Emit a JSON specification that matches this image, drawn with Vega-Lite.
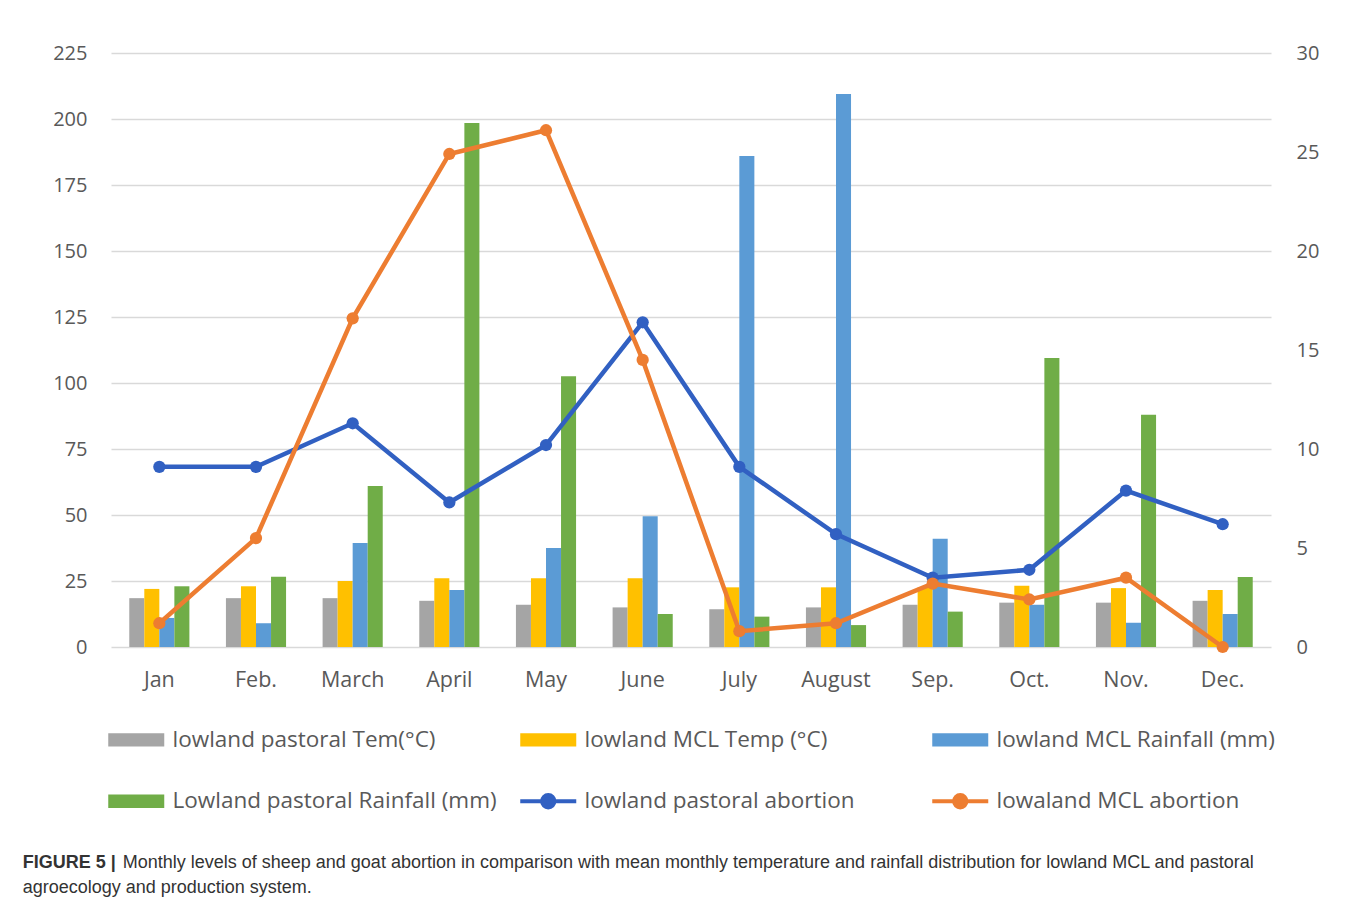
{
  "$schema": "https://vega.github.io/schema/vega-lite/v6.json",
  "width": 1160,
  "height": 594,
  "padding": {"left": 22, "top": 43, "right": 10, "bottom": 5},
  "background": "white",
  "title": {
    "text": "FIGURE 5 |",
    "subtitle": ["\u200b\u00a0\u00a0\u00a0\u00a0\u00a0\u00a0\u00a0\u00a0\u00a0\u00a0\u00a0\u00a0\u00a0\u00a0\u00a0\u00a0\u00a0\u00a0\u00a0\u00a0Monthly levels of sheep and goat abortion in comparison with mean monthly temperature and rainfall distribution for lowland MCL and pastoral", "agroecology and production system."],
    "orient": "bottom",
    "anchor": "start",
    "frame": "bounds",
    "dx": -30,
    "offset": 38,
    "font": "Liberation Sans",
    "fontSize": 18,
    "fontWeight": "bold",
    "color": "#333333",
    "subtitleFont": "Liberation Sans",
    "subtitleFontSize": 18,
    "subtitleColor": "#333333",
    "subtitlePadding": -18,
    "subtitleLineHeight": 25
  },
  "data": {
    "values": [
      {"month": "Jan", "series": "lowland pastoral Tem(°C)", "kind": "bar", "value": 18.5},
      {"month": "Feb.", "series": "lowland pastoral Tem(°C)", "kind": "bar", "value": 18.5},
      {"month": "March", "series": "lowland pastoral Tem(°C)", "kind": "bar", "value": 18.5},
      {"month": "April", "series": "lowland pastoral Tem(°C)", "kind": "bar", "value": 17.5},
      {"month": "May", "series": "lowland pastoral Tem(°C)", "kind": "bar", "value": 16},
      {"month": "June", "series": "lowland pastoral Tem(°C)", "kind": "bar", "value": 15},
      {"month": "July", "series": "lowland pastoral Tem(°C)", "kind": "bar", "value": 14.3},
      {"month": "August", "series": "lowland pastoral Tem(°C)", "kind": "bar", "value": 15},
      {"month": "Sep.", "series": "lowland pastoral Tem(°C)", "kind": "bar", "value": 16},
      {"month": "Oct.", "series": "lowland pastoral Tem(°C)", "kind": "bar", "value": 16.8},
      {"month": "Nov.", "series": "lowland pastoral Tem(°C)", "kind": "bar", "value": 16.8},
      {"month": "Dec.", "series": "lowland pastoral Tem(°C)", "kind": "bar", "value": 17.5},

      {"month": "Jan", "series": "lowland MCL  Temp (°C)", "kind": "bar", "value": 22},
      {"month": "Feb.", "series": "lowland MCL  Temp (°C)", "kind": "bar", "value": 23},
      {"month": "March", "series": "lowland MCL  Temp (°C)", "kind": "bar", "value": 25},
      {"month": "April", "series": "lowland MCL  Temp (°C)", "kind": "bar", "value": 26},
      {"month": "May", "series": "lowland MCL  Temp (°C)", "kind": "bar", "value": 26},
      {"month": "June", "series": "lowland MCL  Temp (°C)", "kind": "bar", "value": 26},
      {"month": "July", "series": "lowland MCL  Temp (°C)", "kind": "bar", "value": 22.6},
      {"month": "August", "series": "lowland MCL  Temp (°C)", "kind": "bar", "value": 22.6},
      {"month": "Sep.", "series": "lowland MCL  Temp (°C)", "kind": "bar", "value": 22.6},
      {"month": "Oct.", "series": "lowland MCL  Temp (°C)", "kind": "bar", "value": 23.2},
      {"month": "Nov.", "series": "lowland MCL  Temp (°C)", "kind": "bar", "value": 22.3},
      {"month": "Dec.", "series": "lowland MCL  Temp (°C)", "kind": "bar", "value": 21.6},

      {"month": "Jan", "series": "lowland MCL Rainfall (mm)", "kind": "bar", "value": 11},
      {"month": "Feb.", "series": "lowland MCL Rainfall (mm)", "kind": "bar", "value": 9},
      {"month": "March", "series": "lowland MCL Rainfall (mm)", "kind": "bar", "value": 39.4},
      {"month": "April", "series": "lowland MCL Rainfall (mm)", "kind": "bar", "value": 21.6},
      {"month": "May", "series": "lowland MCL Rainfall (mm)", "kind": "bar", "value": 37.5},
      {"month": "June", "series": "lowland MCL Rainfall (mm)", "kind": "bar", "value": 49.5},
      {"month": "July", "series": "lowland MCL Rainfall (mm)", "kind": "bar", "value": 186},
      {"month": "August", "series": "lowland MCL Rainfall (mm)", "kind": "bar", "value": 209.5},
      {"month": "Sep.", "series": "lowland MCL Rainfall (mm)", "kind": "bar", "value": 41},
      {"month": "Oct.", "series": "lowland MCL Rainfall (mm)", "kind": "bar", "value": 16},
      {"month": "Nov.", "series": "lowland MCL Rainfall (mm)", "kind": "bar", "value": 9.2},
      {"month": "Dec.", "series": "lowland MCL Rainfall (mm)", "kind": "bar", "value": 12.5},

      {"month": "Jan", "series": "Lowland pastoral Rainfall (mm)", "kind": "bar", "value": 23},
      {"month": "Feb.", "series": "Lowland pastoral Rainfall (mm)", "kind": "bar", "value": 26.6},
      {"month": "March", "series": "Lowland pastoral Rainfall (mm)", "kind": "bar", "value": 61},
      {"month": "April", "series": "Lowland pastoral Rainfall (mm)", "kind": "bar", "value": 198.5},
      {"month": "May", "series": "Lowland pastoral Rainfall (mm)", "kind": "bar", "value": 102.6},
      {"month": "June", "series": "Lowland pastoral Rainfall (mm)", "kind": "bar", "value": 12.5},
      {"month": "July", "series": "Lowland pastoral Rainfall (mm)", "kind": "bar", "value": 11.5},
      {"month": "August", "series": "Lowland pastoral Rainfall (mm)", "kind": "bar", "value": 8.3},
      {"month": "Sep.", "series": "Lowland pastoral Rainfall (mm)", "kind": "bar", "value": 13.4},
      {"month": "Oct.", "series": "Lowland pastoral Rainfall (mm)", "kind": "bar", "value": 109.5},
      {"month": "Nov.", "series": "Lowland pastoral Rainfall (mm)", "kind": "bar", "value": 88},
      {"month": "Dec.", "series": "Lowland pastoral Rainfall (mm)", "kind": "bar", "value": 26.5},

      {"month": "Jan", "series": "lowland pastoral abortion", "kind": "line", "value": 9.1},
      {"month": "Feb.", "series": "lowland pastoral abortion", "kind": "line", "value": 9.1},
      {"month": "March", "series": "lowland pastoral abortion", "kind": "line", "value": 11.3},
      {"month": "April", "series": "lowland pastoral abortion", "kind": "line", "value": 7.3},
      {"month": "May", "series": "lowland pastoral abortion", "kind": "line", "value": 10.2},
      {"month": "June", "series": "lowland pastoral abortion", "kind": "line", "value": 16.4},
      {"month": "July", "series": "lowland pastoral abortion", "kind": "line", "value": 9.1},
      {"month": "August", "series": "lowland pastoral abortion", "kind": "line", "value": 5.7},
      {"month": "Sep.", "series": "lowland pastoral abortion", "kind": "line", "value": 3.5},
      {"month": "Oct.", "series": "lowland pastoral abortion", "kind": "line", "value": 3.9},
      {"month": "Nov.", "series": "lowland pastoral abortion", "kind": "line", "value": 7.9},
      {"month": "Dec.", "series": "lowland pastoral abortion", "kind": "line", "value": 6.2},

      {"month": "Jan", "series": "lowaland MCL abortion", "kind": "line", "value": 1.2},
      {"month": "Feb.", "series": "lowaland MCL abortion", "kind": "line", "value": 5.5},
      {"month": "March", "series": "lowaland MCL abortion", "kind": "line", "value": 16.6},
      {"month": "April", "series": "lowaland MCL abortion", "kind": "line", "value": 24.9},
      {"month": "May", "series": "lowaland MCL abortion", "kind": "line", "value": 26.1},
      {"month": "June", "series": "lowaland MCL abortion", "kind": "line", "value": 14.5},
      {"month": "July", "series": "lowaland MCL abortion", "kind": "line", "value": 0.8},
      {"month": "August", "series": "lowaland MCL abortion", "kind": "line", "value": 1.2},
      {"month": "Sep.", "series": "lowaland MCL abortion", "kind": "line", "value": 3.2},
      {"month": "Oct.", "series": "lowaland MCL abortion", "kind": "line", "value": 2.4},
      {"month": "Nov.", "series": "lowaland MCL abortion", "kind": "line", "value": 3.5},
      {"month": "Dec.", "series": "lowaland MCL abortion", "kind": "line", "value": 0}
    ]
  },
  "encoding": {
    "x": {
      "field": "month",
      "type": "nominal",
      "sort": ["Jan", "Feb.", "March", "April", "May", "June", "July", "August", "Sep.", "Oct.", "Nov.", "Dec."],
      "scale": {"paddingInner": 0.378, "paddingOuter": 0.189},
      "axis": {
        "title": null,
        "labelAngle": 0,
        "domain": false,
        "ticks": false,
        "labelPadding": 22,
        "labelFont": "Open Sans",
        "labelFontSize": 21.5,
        "labelColor": "#595959"
      }
    },
    "color": {
      "field": "series",
      "type": "nominal",
      "scale": {
        "domain": ["lowland pastoral Tem(°C)", "lowland MCL  Temp (°C)", "lowland MCL Rainfall (mm)", "Lowland pastoral Rainfall (mm)", "lowland pastoral abortion", "lowaland MCL abortion"],
        "range": ["#a5a5a5", "#ffc000", "#5b9bd5", "#70ad47", "#3160c2", "#ed7d31"]
      },
      "legend": {
        "title": null,
        "orient": "none",
        "legendX": 14,
        "legendY": 674,
        "direction": "horizontal",
        "columns": 3,
        "gridAlign": "all",
        "columnPadding": 15,
        "rowPadding": 34,
        "symbolSize": 3136,
        "labelOffset": 25,
        "labelFont": "Open Sans",
        "labelFontSize": 22.5,
        "labelColor": "#595959",
        "labelLimit": 400,
        "encode": {
          "symbols": {
            "update": {
              "shape": {"signal": "indexof(['lowland pastoral abortion','lowaland MCL abortion'], datum.value) >= 0 ? 'M-1,0H1M0.22,0A0.22,0.22,0,1,1,-0.22,0A0.22,0.22,0,1,1,0.22,0Z' : 'M-1,-0.24H1V0.24H-1Z'"},
              "fill": {"scale": "color", "field": "value"},
              "stroke": {"scale": "color", "field": "value"},
              "strokeWidth": {"signal": "indexof(['lowland pastoral abortion','lowaland MCL abortion'], datum.value) >= 0 ? 4 : 0"},
              "opacity": {"value": 1},
              "fillOpacity": {"value": 1},
              "strokeOpacity": {"value": 1}
            }
          }
        }
      }
    }
  },
  "layer": [
    {
      "transform": [{"filter": "datum.kind === 'bar'"}],
      "mark": {"type": "bar"},
      "encoding": {
        "xOffset": {
          "field": "series",
          "type": "nominal",
          "sort": ["lowland pastoral Tem(°C)", "lowland MCL  Temp (°C)", "lowland MCL Rainfall (mm)", "Lowland pastoral Rainfall (mm)"],
          "scale": {"paddingInner": 0, "paddingOuter": 0}
        },
        "y": {
          "field": "value",
          "type": "quantitative",
          "scale": {"domain": [0, 225]},
          "axis": {
            "title": null,
            "values": [0, 25, 50, 75, 100, 125, 150, 175, 200, 225],
            "domain": false,
            "ticks": false,
            "labelPadding": 24,
            "labelFont": "Open Sans",
            "labelFontSize": 20,
            "labelColor": "#595959",
            "grid": true,
            "gridColor": "#d9d9d9",
            "gridWidth": 1.5
          }
        }
      }
    },
    {
      "transform": [{"filter": "datum.kind === 'line'"}],
      "mark": {"type": "line", "strokeWidth": 4.5, "point": {"filled": true, "size": 150, "opacity": 1}},
      "encoding": {
        "y": {
          "field": "value",
          "type": "quantitative",
          "scale": {"domain": [0, 30]},
          "axis": {
            "orient": "right",
            "title": null,
            "values": [0, 5, 10, 15, 20, 25, 30],
            "domain": false,
            "ticks": false,
            "grid": false,
            "labelPadding": 25,
            "labelFont": "Open Sans",
            "labelFontSize": 20,
            "labelColor": "#595959"
          }
        }
      }
    }
  ],
  "resolve": {"scale": {"y": "independent"}},
  "config": {
    "view": {"stroke": null}
  }
}
